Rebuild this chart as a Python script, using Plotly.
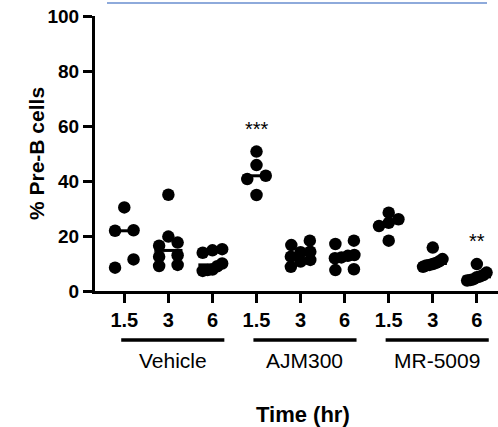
import numpy as np
import plotly.graph_objects as go

# ---------------- data ----------------
groups = ["Vehicle", "AJM300", "MR-5009"]
times = ["1.5", "3", "6"]

vehicle_1_5 = [30.4, 22.1, 21.9, 11.5, 8.5]
vehicle_3 = [35.0, 19.8, 17.6, 16.5, 13.0, 12.5, 9.5, 9.1]
vehicle_6 = [15.2, 14.8, 13.9, 10.0, 9.0, 7.8, 7.6, 7.3]
ajm_1_5 = [50.7, 45.8, 41.9, 40.7, 34.9]
ajm_3 = [18.3, 16.7, 14.3, 14.1, 12.5, 11.3, 10.7, 8.8]
ajm_6 = [18.3, 17.1, 13.1, 12.8, 12.2, 11.9, 7.9, 7.6]
mr_1_5 = [28.5, 26.1, 24.8, 23.6, 18.3]
mr_3 = [15.8, 11.6, 10.8, 10.2, 9.8, 9.5, 9.3, 8.8]
mr_6 = [9.8, 6.7, 5.8, 5.3, 5.0, 4.3, 4.0, 3.8]

series = [vehicle_1_5, vehicle_3, vehicle_6,
          ajm_1_5, ajm_3, ajm_6,
          mr_1_5, mr_3, mr_6]
tick_labels = times * 3
significance = {3: "***", 8: "**"}

# ---------------- geometry helpers ----------------
W, H = 498, 427
L, R, T, B = 95, 0, 16, 136
PW, PH = W - L - R, H - T - B
XR = [-0.665, 8.48]


def py(p):  # pixel y -> paper y
    return (H - B - p) / PH


def px(p):  # pixel x -> paper x
    return (p - L) / PW


def swarm_offsets(vals, thr=3.2, step=0.21):
    """Simple row-based scatter arrangement (GraphPad-like)."""
    order = np.argsort(vals)
    offs = np.zeros(len(vals))
    rows, cur = [], [order[0]]
    for idx in order[1:]:
        if vals[idx] - vals[cur[0]] <= thr:
            cur.append(idx)
        else:
            rows.append(cur)
            cur = [idx]
    rows.append(cur)
    for row in rows:
        n = len(row)
        if n == 1:
            o = [0.0]
        elif n == 2:
            o = [-step, step]
        else:
            o = np.linspace(-step * 1.05, step * 1.05, n)
        for k, idx in enumerate(row):
            offs[idx] = o[k]
    return offs


fig = go.Figure()

for i, vals in enumerate(series):
    v = np.array(vals, dtype=float)
    xs = i + swarm_offsets(v)
    fig.add_trace(go.Scatter(
        x=xs, y=v, mode="markers",
        marker=dict(size=12.5, color="black", line=dict(width=0)),
        showlegend=False, cliponaxis=False, hoverinfo="y"))
    med = float(np.median(v))
    fig.add_trace(go.Scatter(
        x=[i - 0.32, i + 0.32], y=[med, med], mode="lines",
        line=dict(color="black", width=3),
        showlegend=False, cliponaxis=False, hoverinfo="skip"))

FONT = "Arial, Liberation Sans, Helvetica, sans-serif"

annotations = []
for i, txt in significance.items():
    annotations.append(dict(
        x=i, y=max(series[i]), xref="x", yref="y", text=txt,
        showarrow=False, yanchor="middle", yshift=23,
        font=dict(family=FONT, size=20, color="black")))

shapes = []
for g, name in enumerate(groups):
    x0, x1 = g * 3 - 0.07, g * 3 + 2.27
    shapes.append(dict(type="line", xref="x", yref="paper",
                       x0=x0, x1=x1, y0=py(340), y1=py(340),
                       line=dict(color="black", width=3.3)))
    annotations.append(dict(
        x=g * 3 + 1.1, y=py(360.5), xref="x", yref="paper", text=name,
        showarrow=False, yanchor="middle",
        font=dict(family=FONT, size=21, color="black")))

annotations.append(dict(
    x=px(303), y=py(414), xref="paper", yref="paper", text="Time (hr)",
    showarrow=False, yanchor="middle", xanchor="center",
    font=dict(family=FONT, size=22, color="black", weight="bold")))
annotations.append(dict(
    x=px(36), y=py(154), xref="paper", yref="paper", text="% Pre-B cells",
    showarrow=False, textangle=-90, yanchor="middle", xanchor="center",
    font=dict(family=FONT, size=21, color="black", weight="bold")))

# thin blue rule at top
shapes.append(dict(type="line", xref="paper", yref="paper",
                   x0=px(107), x1=px(487), y0=py(3), y1=py(3),
                   line=dict(color="#8eaadb", width=2)))

fig.update_layout(
    width=W, height=H,
    margin=dict(l=L, r=R, t=T, b=B, pad=0),
    plot_bgcolor="white", paper_bgcolor="white",
    annotations=annotations, shapes=shapes,
    xaxis=dict(range=XR, tickmode="array", tickvals=list(range(9)),
               ticktext=tick_labels, showline=True, linecolor="black",
               linewidth=3, ticks="outside", ticklen=9, tickwidth=3,
               tickcolor="black", showgrid=False, zeroline=False,
               tickfont=dict(family=FONT, size=20, color="black", weight="bold")),
    yaxis=dict(range=[0, 100], tickvals=[0, 20, 40, 60, 80, 100],
               showline=True, linecolor="black", linewidth=3,
               ticks="outside", ticklen=9, tickwidth=3, tickcolor="black",
               showgrid=False, zeroline=False,
               tickfont=dict(family=FONT, size=19, color="black", weight="bold")),
)

fig.write_html(
    "out.html",
    config={"displayModeBar": False},
    post_script="document.body.style.margin='0';document.body.style.padding='0';",
)
